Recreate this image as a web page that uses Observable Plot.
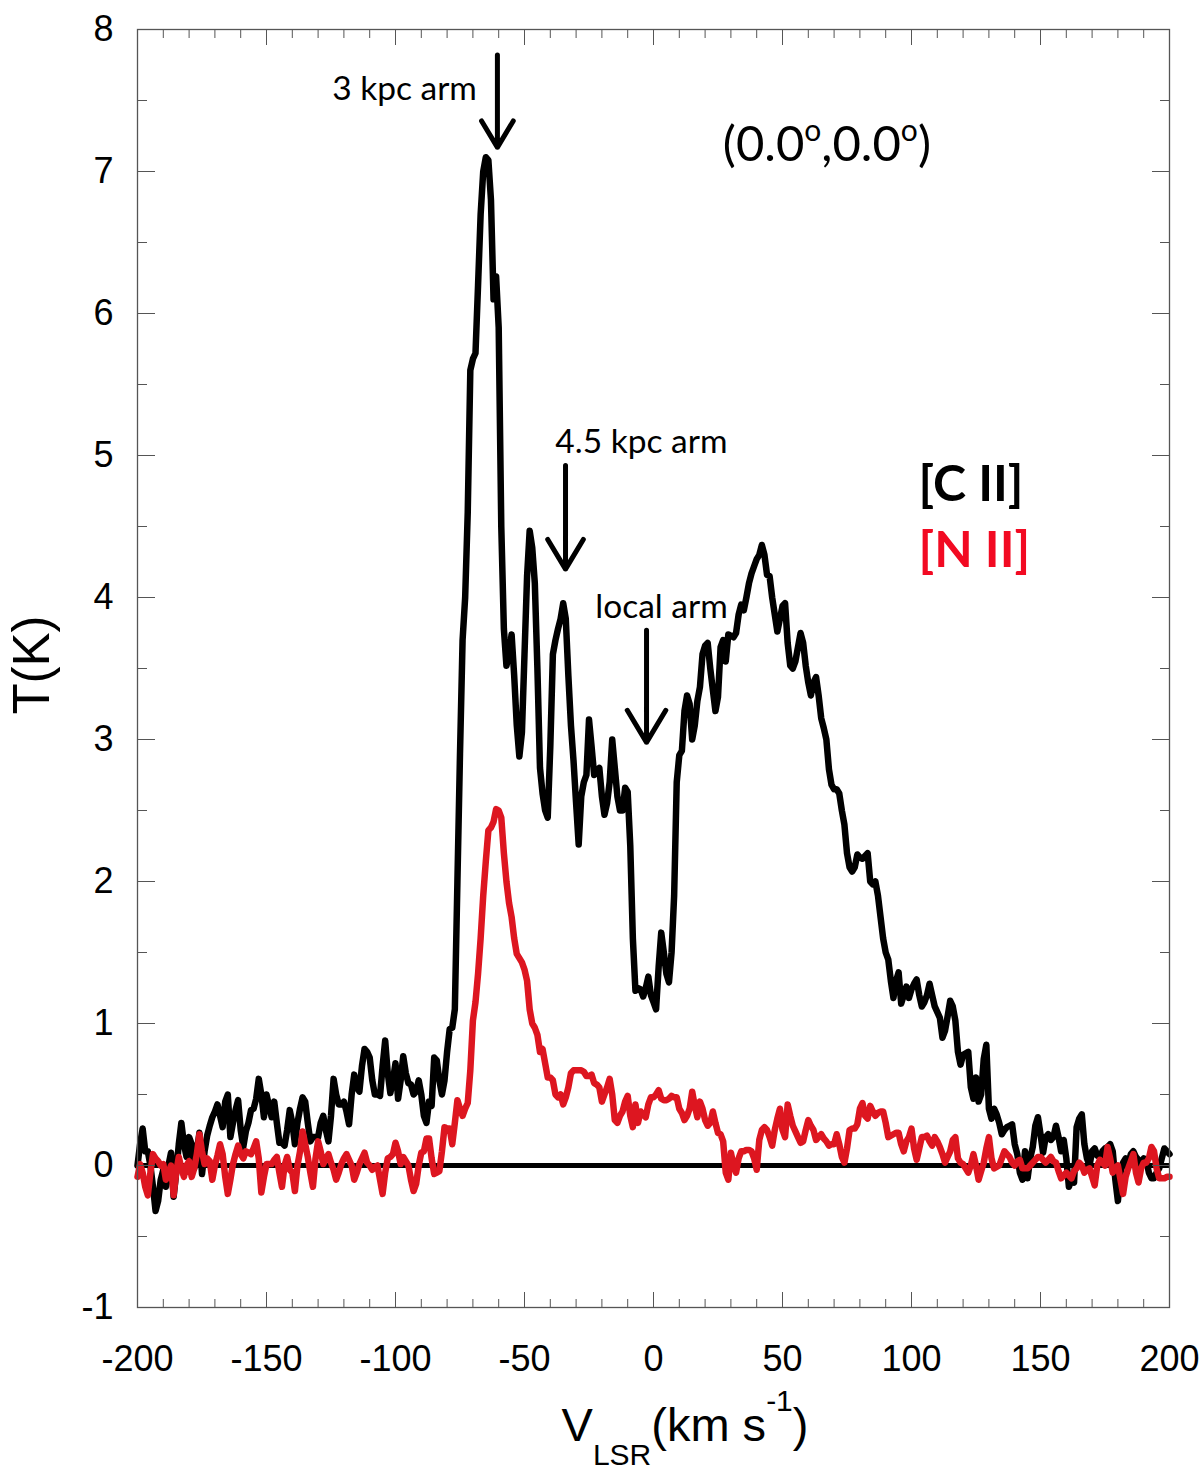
<!DOCTYPE html>
<html><head><meta charset="utf-8">
<script src="https://cdn.jsdelivr.net/npm/d3@7"></script>
<script src="https://cdn.jsdelivr.net/npm/@observablehq/plot@0.6"></script>
<style>body{margin:0;background:#fff}#chart{width:1200px}</style>
</head><body><div id="chart"></div>
<script>
// velocity channels (km/s), 1 km/s spacing
const velocity = d3.range(-200, 201, 1);
// [C II] brightness temperature (K)
const cii = [
0.0,0.15,0.26,0.1,0.1,0.0,-0.15,-0.32,-0.25,-0.1,
-0.03,-0.15,0.0,0.09,-0.22,-0.05,0.15,0.3,0.15,0.06,
0.2,0.15,-0.02,0.1,0.23,-0.06,0.1,0.21,0.28,0.34,
0.38,0.43,0.35,0.27,0.45,0.5,0.2,0.3,0.39,0.46,
0.25,0.13,0.24,0.3,0.39,0.4,0.47,0.61,0.5,0.34,
0.5,0.42,0.34,0.45,0.3,0.16,0.16,0.14,0.25,0.39,
0.3,0.15,0.3,0.4,0.48,0.45,0.3,0.17,0.2,0.2,
0.2,0.3,0.35,0.25,0.17,0.35,0.61,0.5,0.43,0.43,
0.45,0.38,0.29,0.5,0.64,0.55,0.52,0.7,0.82,0.8,
0.76,0.6,0.5,0.5,0.49,0.7,0.88,0.65,0.51,0.6,
0.72,0.47,0.6,0.77,0.65,0.58,0.57,0.5,0.52,0.6,
0.5,0.35,0.3,0.45,0.42,0.76,0.74,0.6,0.5,0.6,
0.8,0.96,0.97,1.1,2.0,2.9,3.7,4.0,4.6,5.6,
5.68,5.72,6.2,6.7,7.0,7.1,7.08,6.8,6.1,6.26,
5.9,4.5,3.78,3.52,3.6,3.74,3.45,3.1,2.88,3.05,
3.6,4.15,4.47,4.35,4.1,3.5,2.8,2.62,2.5,2.45,
2.95,3.6,3.7,3.78,3.85,3.96,3.85,3.45,3.1,2.85,
2.55,2.26,2.6,2.7,2.75,3.14,2.95,2.75,2.78,2.8,
2.6,2.47,2.55,2.7,3.0,2.8,2.6,2.5,2.5,2.66,
2.63,2.25,1.6,1.23,1.25,1.24,1.19,1.25,1.33,1.2,
1.15,1.1,1.4,1.64,1.5,1.35,1.29,1.5,1.9,2.7,
2.89,2.92,3.2,3.31,3.25,3.0,3.1,3.27,3.37,3.6,
3.66,3.68,3.5,3.35,3.2,3.3,3.65,3.7,3.55,3.74,
3.73,3.72,3.75,3.88,3.95,3.91,4.0,4.1,4.17,4.22,
4.27,4.3,4.37,4.3,4.16,4.15,4.0,3.88,3.76,3.85,
3.94,3.96,3.68,3.52,3.5,3.55,3.65,3.75,3.68,3.52,
3.4,3.31,3.4,3.44,3.31,3.15,3.08,3.0,2.79,2.68,
2.65,2.65,2.62,2.5,2.4,2.2,2.1,2.07,2.1,2.19,
2.17,2.16,2.18,2.2,2.0,1.98,2.0,1.9,1.75,1.6,
1.5,1.45,1.3,1.18,1.3,1.36,1.14,1.2,1.26,1.18,
1.24,1.28,1.31,1.2,1.12,1.15,1.2,1.28,1.2,1.12,
1.08,1.04,0.9,0.95,1.05,1.16,1.12,1.02,0.8,0.71,
0.78,0.79,0.8,0.55,0.47,0.62,0.45,0.5,0.75,0.85,
0.4,0.33,0.4,0.36,0.3,0.22,0.25,0.27,0.28,0.29,
0.15,0.08,-0.05,-0.1,0.1,-0.09,0.05,0.13,0.28,0.34,
0.22,0.09,0.2,0.22,0.18,0.2,0.28,0.2,0.1,0.18,
0.05,-0.15,-0.1,-0.12,0.27,0.33,0.36,0.15,0.05,0.0,
0.1,0.12,0.07,0.06,0.1,0.12,0.13,0.15,0.1,-0.1,
-0.25,-0.05,0.02,0.05,0.0,0.08,0.1,0.06,0.04,0.02,
0.05,0.04,-0.05,-0.09,-0.09,-0.05,-0.02,0.05,0.12,0.1,
0.08];
// [N II] brightness temperature (K)
const nii = [
-0.08,0.01,-0.05,-0.15,-0.21,-0.05,0.08,0.05,0.03,0.0,
0.01,-0.1,-0.05,0.0,-0.21,-0.05,0.06,-0.02,-0.08,0.0,
0.03,-0.08,-0.02,0.08,0.22,0.1,0.01,0.05,0.03,-0.1,
0.0,0.07,0.15,0.08,-0.08,-0.2,-0.1,0.01,0.08,0.14,
0.08,0.05,0.1,0.09,0.08,0.12,0.17,0.05,-0.19,-0.08,
0.01,0.01,0.01,0.04,0.06,-0.05,-0.15,0.0,0.06,-0.03,
-0.05,-0.18,0.0,0.1,0.24,0.15,0.06,-0.05,-0.15,0.05,
0.17,0.1,0.01,0.05,0.08,0.02,-0.03,-0.1,-0.05,0.01,
0.05,0.08,0.04,0.0,-0.1,-0.05,0.01,0.05,0.09,0.02,
0.0,-0.03,-0.01,0.0,-0.1,-0.2,-0.05,0.05,0.06,0.08,
0.16,0.1,0.01,0.06,0.03,0.0,-0.1,-0.18,-0.13,0.0,
0.09,0.1,0.19,0.19,0.05,-0.06,-0.05,-0.04,0.1,0.27,
0.26,0.26,0.15,0.3,0.46,0.4,0.35,0.4,0.44,0.67,
1.02,1.15,1.35,1.6,1.9,2.14,2.36,2.38,2.42,2.51,
2.5,2.45,2.2,2.0,1.85,1.75,1.6,1.49,1.46,1.43,
1.38,1.3,1.1,1.0,0.97,0.92,0.8,0.82,0.72,0.62,
0.62,0.6,0.5,0.48,0.5,0.43,0.48,0.55,0.65,0.67,
0.67,0.67,0.67,0.66,0.63,0.63,0.64,0.58,0.57,0.55,
0.45,0.5,0.55,0.61,0.5,0.32,0.3,0.35,0.38,0.45,
0.49,0.35,0.27,0.43,0.3,0.38,0.36,0.34,0.43,0.48,
0.48,0.5,0.53,0.47,0.46,0.46,0.47,0.49,0.48,0.48,
0.4,0.37,0.32,0.35,0.4,0.52,0.42,0.34,0.45,0.4,
0.32,0.28,0.3,0.38,0.3,0.23,0.22,0.17,-0.05,-0.1,
0.09,0.0,-0.05,0.05,0.1,0.1,0.11,0.11,0.1,0.05,
-0.03,0.18,0.25,0.27,0.25,0.2,0.14,0.25,0.33,0.4,
0.25,0.2,0.43,0.35,0.28,0.24,0.2,0.16,0.17,0.25,
0.32,0.28,0.25,0.18,0.2,0.22,0.19,0.17,0.14,0.15,
0.15,0.22,0.15,0.06,0.02,0.12,0.25,0.26,0.26,0.29,
0.4,0.44,0.35,0.33,0.42,0.38,0.35,0.37,0.38,0.38,
0.3,0.2,0.21,0.22,0.23,0.23,0.15,0.1,0.17,0.2,
0.26,0.12,0.04,0.12,0.2,0.2,0.21,0.17,0.14,0.2,
0.17,0.13,0.08,0.02,0.06,0.1,0.18,0.2,0.05,0.02,
0.01,-0.02,-0.05,0.0,0.08,0.0,-0.1,-0.04,0.02,0.12,
0.2,0.05,-0.02,-0.01,0.0,0.05,0.1,0.08,0.06,0.02,
0.0,0.03,0.04,-0.02,-0.02,-0.02,0.0,0.02,0.04,0.06,
0.06,0.04,0.02,0.04,0.06,0.03,0.02,-0.04,-0.09,-0.07,
-0.05,-0.07,-0.09,-0.04,-0.02,0.02,0.0,-0.05,-0.03,-0.02,
-0.08,-0.14,0.0,0.04,0.02,0.0,0.13,0.05,-0.05,-0.02,
0.0,-0.1,-0.2,-0.08,-0.02,0.03,0.08,-0.05,-0.12,-0.02,
0.02,0.02,0.05,0.13,0.1,-0.02,-0.09,-0.09,-0.09,-0.08,
-0.08];

const xMajorTicks = [-200,-150,-100,-50,0,50,100,150,200];
const xMinorTicks = [-190,-180,-170,-160,-140,-130,-120,-110,-90,-80,-70,-60,-40,-30,-20,-10,
  10,20,30,40,60,70,80,90,110,120,130,140,160,170,180,190];
const yMajorTicks = [-1,0,1,2,3,4,5,6,7,8];
const yMinorTicks = [-0.5,0.5,1.5,2.5,3.5,4.5,5.5,6.5,7.5];

// spiral-arm annotations (data units)
const armNames = ["3 kpc arm","4.5 kpc arm","local arm"];
const armLabelV = [-96.5,-4.7,3.1];
const armLabelT = [7.58,5.09,3.93];
const armArrowV = [-60.5,-34.1,-2.7];
const armArrowFrom = [7.82,4.93,3.77];
const armArrowTo = [7.17,4.2,2.98];

// legend entries
const seriesNames = ["[C II]","[N II]"];
const seriesColors = ["#000000","#f20a22"];
const legendV = [102.7,102.7];
const legendT = [4.79,4.33];

// position label
const positionLabel = ["(0.0","o",",0.0","o",")"];
const positionV = 67.4, positionT = 7.07;

const ciiData = velocity.map((v,i)=>({v, t: cii[i]}));
const niiData = velocity.map((v,i)=>({v, t: nii[i]}));
const arms = armNames.map((name,i)=>({name, lv: armLabelV[i], lt: armLabelT[i], av: armArrowV[i], a1: armArrowFrom[i], a2: armArrowTo[i]}));
const legend = seriesNames.map((name,i)=>({name, color: seriesColors[i], v: legendV[i], t: legendT[i]}));

const tickColor = "#555";
const fmt = d => String(d);

const plot = Plot.plot({
  width: 1200, height: 1470,
  marginLeft: 137, marginRight: 31, marginTop: 29, marginBottom: 163,
  x: {domain: [-200, 200], label: null},
  y: {domain: [-1, 8], label: null},
  style: {fontFamily: "'Liberation Sans', Arial, sans-serif", fontSize: "36px", background: "#fff", color: "#000"},
  marks: [
    Plot.ruleY([0], {stroke: "#000", strokeWidth: 5}),
    Plot.line(ciiData, {x: "v", y: "t", stroke: "#000", strokeWidth: 6.5}),
    Plot.line(niiData, {x: "v", y: "t", stroke: "#dd1620", strokeWidth: 6.5}),
    Plot.frame({stroke: tickColor, strokeWidth: 1.3}),
    // inward ticks
    Plot.axisX(xMajorTicks, {anchor: "bottom", tickSize: 15, dy: -15, text: null, stroke: tickColor, label: null}),
    Plot.axisX(xMinorTicks, {anchor: "bottom", tickSize: 8, dy: -8, text: null, stroke: tickColor, label: null}),
    Plot.axisX(xMajorTicks, {anchor: "top", tickSize: 15, dy: 15, text: null, stroke: tickColor, label: null}),
    Plot.axisX(xMinorTicks, {anchor: "top", tickSize: 8, dy: 8, text: null, stroke: tickColor, label: null}),
    Plot.axisY(yMajorTicks, {anchor: "left", tickSize: 18, dx: 18, text: null, stroke: tickColor, label: null}),
    Plot.axisY(yMinorTicks, {anchor: "left", tickSize: 10, dx: 10, text: null, stroke: tickColor, label: null}),
    Plot.axisY(yMajorTicks, {anchor: "right", tickSize: 18, dx: -18, text: null, stroke: tickColor, label: null}),
    Plot.axisY(yMinorTicks, {anchor: "right", tickSize: 10, dx: -10, text: null, stroke: tickColor, label: null}),
    // tick labels
    Plot.axisX(xMajorTicks, {anchor: "bottom", tickSize: 0, tickPadding: 38, tickFormat: fmt, label: null, fontSize: 36, fill: "#000"}),
    Plot.axisY(yMajorTicks, {anchor: "left", tickSize: 0, tickPadding: 24, tickFormat: fmt, label: null, fontSize: 36, fill: "#000"}),
    // annotations
    Plot.arrow(arms, {x1: "av", x2: "av", y1: "a1", y2: "a2", stroke: "#000", strokeWidth: 5, headLength: 20, headAngle: 62}),
    Plot.text(arms, {x: "lv", y: "lt", text: "name", fontFamily: "Lato, 'Open Sans', sans-serif", fontSize: 33.5, fill: "#000", textAnchor: "middle"}),
    Plot.text(legend, {x: "v", y: "t", text: "name", fill: "color", fontFamily: "Lato, 'Open Sans', sans-serif", fontWeight: "bold", fontSize: 50, textAnchor: "start"})
  ]
});

document.getElementById("chart").appendChild(plot);

const svg = d3.select(plot);
const sx = plot.scale("x"), sy = plot.scale("y");

// (0.0°,0.0°) label with superscript "o"
const pos = svg.append("text")
  .attr("x", sx.apply(positionV)).attr("y", sy.apply(positionT))
  .attr("text-anchor", "middle")
  .style("font-family", "Lato, 'Open Sans', sans-serif").style("font-size", "49px").attr("fill", "#000");
positionLabel.forEach((s, i) => {
  const sup = s === "o";
  const prevSup = i > 0 && positionLabel[i-1] === "o";
  const t = pos.append("tspan").text(s);
  if (sup) t.attr("dy", -20).style("font-size", "30px");
  else if (prevSup) t.attr("dy", 20);
});

// x axis title
const xt = svg.append("text")
  .attr("x", 685).attr("y", 1441).attr("text-anchor", "middle")
  .style("font-family", "'Liberation Sans', Arial, sans-serif").style("font-size", "47px").attr("fill", "#000");
xt.append("tspan").text("V");
xt.append("tspan").text("LSR").attr("dy", 24).style("font-size", "30px");
xt.append("tspan").text("(km s").attr("dy", -24);
xt.append("tspan").text("-1").attr("dy", -30).style("font-size", "30px");
xt.append("tspan").text(")").attr("dy", 30);

// y axis title
svg.append("text")
  .attr("transform", "translate(49,665) rotate(-90)")
  .attr("text-anchor", "middle")
  .style("font-family", "'Liberation Sans', Arial, sans-serif").style("font-size", "51px").attr("fill", "#000")
  .text("T(K)");
</script>
</body></html>
